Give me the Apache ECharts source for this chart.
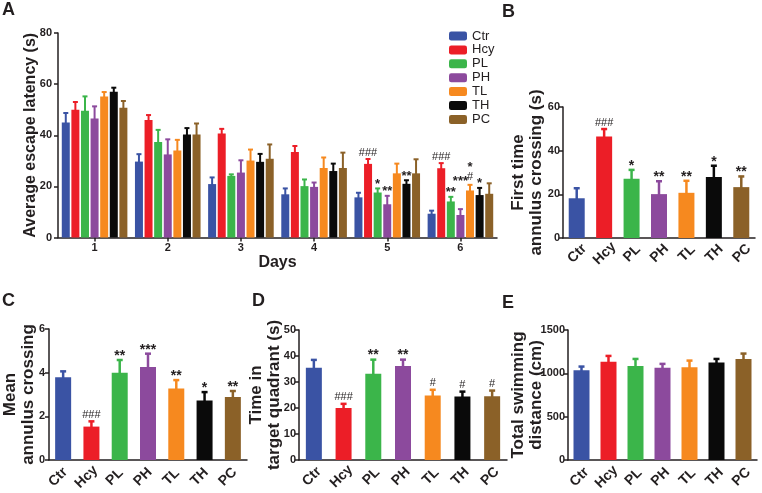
<!DOCTYPE html>
<html><head><meta charset="utf-8">
<script src="https://cdn.jsdelivr.net/npm/echarts@6/dist/echarts.min.js"></script>
<style>html,body{margin:0;padding:0;background:#fff}#c{width:762px;height:493px}</style>
</head><body><div id="c"></div>
<script>
// ---------- data ----------
const groups = ['Ctr','Hcy','PL','PH','TL','TH','PC'];
const days = ['1','2','3','4','5','6'];
const colors = ['#3A53A4','#EC1E27','#3BB54A','#8C4A9D','#F6891F','#0A0A0A','#8B6128'];

// Panel A: average escape latency (s), mean and mean+SEM per day
const aCtr = [45.0, 29.7, 20.9, 16.9, 15.7, 9.3];
const aCtrTop = [48.7, 32.6, 23.5, 19.2, 17.5, 10.5];
const aHcy = [50.0, 46.0, 40.7, 33.4, 28.8, 27.1];
const aHcyTop = [53.0, 47.9, 42.5, 35.8, 30.7, 29.1];
const aPL = [49.6, 37.4, 24.1, 20.1, 17.6, 14.1];
const aPLTop = [55.2, 42.1, 24.7, 22.7, 19.2, 15.9];
const aPH = [46.6, 32.5, 25.4, 19.8, 13.0, 8.8];
const aPHTop = [51.3, 38.4, 30.2, 21.5, 16.3, 11.1];
const aTL = [55.2, 34.0, 30.1, 27.2, 25.1, 18.4];
const aTLTop = [56.9, 38.2, 34.4, 31.3, 28.9, 20.6];
const aTH = [57.0, 40.3, 29.6, 26.0, 21.0, 16.6];
const aTHTop = [58.6, 42.8, 32.7, 28.9, 22.4, 19.4];
const aPC = [50.8, 40.3, 30.8, 27.2, 25.1, 17.1];
const aPCTop = [53.4, 44.6, 36.4, 33.2, 30.6, 21.2];
const aAnnHcy = ['','','','','###','###'];
const aAnnPL = ['','','','','*','**'];
const aAnnPH = ['','','','','**','***'];
const aAnnTL = ['','','','','','*\n#'];
const aAnnTH = ['','','','','**','*'];
const aTicks = [0, 20, 40, 60, 80];

// Panel B: first time annulus crossing (s)
const bMean = [18.2, 46.5, 27.1, 20.1, 20.7, 27.9, 23.3];
const bTop = [22.8, 49.9, 31.2, 26.0, 26.2, 33.1, 28.2];
const bAnn = ['','###','*','**','**','*','**'];
// Panel C: mean annulus crossing
const cMean = [3.79, 1.53, 4.00, 4.26, 3.27, 2.72, 2.89];
const cTop = [4.06, 1.77, 4.58, 4.87, 3.66, 3.11, 3.16];
const cAnn = ['','###','**','***','**','*','**'];
// Panel D: time in target quadrant (s)
const dMean = [35.5, 20.0, 33.2, 36.2, 24.8, 24.4, 24.5];
const dTop = [38.5, 21.6, 38.6, 38.6, 27.0, 26.3, 26.7];
const dAnn = ['','###','**','**','#','#','#'];
// Panel E: total swimming distance (cm)
const eMean = [1036, 1135, 1086, 1063, 1070, 1124, 1166];
const eTop = [1078, 1201, 1166, 1109, 1147, 1166, 1228];

// ---------- chart ----------
const FONT = "'Liberation Sans', Arial, Helvetica, sans-serif";
const INK = '#231F20';
const chart = echarts.init(document.getElementById('c'));

const aMeans = [aCtr, aHcy, aPL, aPH, aTL, aTH, aPC];
const aTops = [aCtrTop, aHcyTop, aPLTop, aPHTop, aTLTop, aTHTop, aPCTop];
const aAnns = [null, aAnnHcy, aAnnPL, aAnnPH, aAnnTL, aAnnTH, null];

function yAxis(gi, max, interval, name, nameGap, nameSize, labelMargin) {
  return {type:'value', gridIndex:gi, min:0, max:max, interval:interval,
    name:name, nameLocation:'middle', nameGap:nameGap, nameMoveOverlap:false,
    nameTextStyle:{fontSize:nameSize, fontWeight:'bold', color:INK, lineHeight:18, fontFamily:FONT},
    axisLine:{show:true, lineStyle:{color:INK, width:1.5}},
    axisTick:{show:true, length:4, lineStyle:{color:INK, width:1.5}},
    axisLabel:{fontSize:11, fontWeight:'bold', color:INK, margin:labelMargin, fontFamily:FONT,
      formatter:(v)=>String(v)},
    splitLine:{show:false}};
}
function xCat(gi) {
  return {type:'category', gridIndex:gi, data:groups,
    axisLine:{lineStyle:{color:INK, width:1.5}}, axisTick:{show:false},
    axisLabel:{show:false}};
}
// error bars, significance marks and (for B-E) the rotated category labels
function errSeries(gi, means, tops, anns, colorOf, offset, capW, lw, starSize, liftOf, catLabel) {
  return {type:'custom', xAxisIndex:gi, yAxisIndex:gi, z:5, silent:true, clip:false,
    data: means.map((m,i)=>[i, m, tops[i]]),
    renderItem: function(params, api) {
      const i = api.value(0);
      const a = api.coord([i, api.value(1)]);
      const b = api.coord([i, api.value(2)]);
      const x = a[0] + offset;
      const c = colorOf(i);
      const ch = [
        {type:'line', shape:{x1:x, y1:a[1]+1, x2:x, y2:b[1]}, style:{stroke:c, lineWidth:lw}},
        {type:'line', shape:{x1:x-capW/2, y1:b[1], x2:x+capW/2, y2:b[1]}, style:{stroke:c, lineWidth:lw}}
      ];
      const t = anns ? anns[i] : '';
      if (t) {
        const lift = liftOf ? liftOf(i) : 0;
        const lines = t.split('\n');
        if (lines.length > 1) {
          ch.push({type:'text', style:{text:'{s|' + lines[0] + '}\n{h|' + lines[1] + '}', x:x, y:b[1] - 12 - lift,
            textAlign:'center', textVerticalAlign:'middle', fill:INK,
            rich:{s:{font:'bold ' + starSize + 'px ' + FONT, lineHeight:9, fill:INK, align:'center'},
                  h:{font:'normal 11px ' + FONT, lineHeight:10, fill:INK, align:'center'}}}});
        } else {
          const star = t[0] === '*';
          ch.push({type:'text', style:{text:t, x:x, y:b[1] - (star ? 4 : 6.5) - lift,
            textAlign:'center', textVerticalAlign:'middle', fill:INK,
            font:(star ? 'bold ' + starSize : 'normal 11') + 'px ' + FONT}});
        }
      }
      if (catLabel) {
        const base = api.coord([i, 0]);
        ch.push({type:'text', x:base[0] + catLabel.dx, y:base[1] + catLabel.dy, rotation:Math.PI/4,
          style:{text:groups[i], textAlign:'center', textVerticalAlign:'middle', fill:INK,
            font:'bold 14px ' + FONT}});
      }
      return {type:'group', children:ch};
    }};
}

const series = [];
aMeans.forEach((arr, k) => {
  series.push({type:'bar', name:groups[k], xAxisIndex:0, yAxisIndex:0, data:arr,
    barWidth:8, barGap:'20%', itemStyle:{color:colors[k]}});
});
aMeans.forEach((arr, k) => {
  series.push(errSeries(0, arr, aTops[k], aAnns[k], ()=>colors[k], (k-3)*9.6, 5, 2, 13,
    (i)=> (k===3 && i===5) ? 24 : 0, null));
});
const panels = [[bMean,bTop,bAnn],[cMean,cTop,cAnn],[dMean,dTop,dAnn],[eMean,eTop,null]];
const labelShift = [{dx:0.5, dy:15.5}, {dx:-5, dy:17}, {dx:-2, dy:16.5}, {dx:-2, dy:17}];
panels.forEach((p, j) => {
  const gi = j+1;
  series.push({type:'bar', xAxisIndex:gi, yAxisIndex:gi, barWidth:16,
    data:p[0].map((v,i)=>({value:v, itemStyle:{color:colors[i]}}))});
  series.push(errSeries(gi, p[0], p[1], p[2], (i)=>colors[i], 0, 6, 2.5, 14, null, labelShift[j]));
});

const option = {
  animation:false,
  textStyle:{fontFamily:FONT},
  grid:[
    {left:58, top:33, width:439, height:204.5},
    {left:563, top:107, width:192, height:131},
    {left:49, top:329, width:198, height:131},
    {left:299, top:330, width:208, height:130},
    {left:568, top:330, width:189, height:130}
  ],
  xAxis:[
    {type:'category', gridIndex:0, data:days, name:'Days', nameLocation:'middle', nameGap:12,
      nameTextStyle:{fontSize:16, fontWeight:'bold', color:INK, fontFamily:FONT},
      axisLine:{lineStyle:{color:INK, width:1.5}},
      axisTick:{show:true, alignWithLabel:true, length:4, lineStyle:{color:INK, width:1.5}},
      axisLabel:{fontSize:11, fontWeight:'bold', color:INK, margin:5, fontFamily:FONT}},
    xCat(1), xCat(2), xCat(3), xCat(4)
  ],
  yAxis:[
    yAxis(0, aTicks[aTicks.length-1], aTicks[1]-aTicks[0], 'Average escape latency (s)', 18, 16, 6),
    yAxis(1, 60, 20, 'First time\nannulus crossing (s)', 17.5, 17, 3),
    yAxis(2, 6, 2, 'Mean\nannulus crossing', 12, 17, 4),
    yAxis(3, 50, 10, 'Time in\ntarget quadrant (s)', 15.5, 17, 3),
    yAxis(4, 1500, 500, 'Total swimming\ndistance (cm)', 23, 17, 3)
  ],
  legend:{data:groups, orient:'vertical', left:449, top:29.5, padding:0, itemWidth:18, itemHeight:9, itemGap:0.9,
    icon:'roundRect', textStyle:{fontSize:13, color:INK, fontFamily:FONT}},
  graphic:[
    {type:'text', left:2, top:1, style:{text:'A', font:'bold 18px ' + FONT, fill:INK}},
    {type:'text', left:502, top:3, style:{text:'B', font:'bold 18px ' + FONT, fill:INK}},
    {type:'text', left:2, top:292, style:{text:'C', font:'bold 18px ' + FONT, fill:INK}},
    {type:'text', left:252, top:292, style:{text:'D', font:'bold 18px ' + FONT, fill:INK}},
    {type:'text', left:502, top:294, style:{text:'E', font:'bold 18px ' + FONT, fill:INK}}
  ],
  series:series
};
chart.setOption(option);
</script></body></html>
